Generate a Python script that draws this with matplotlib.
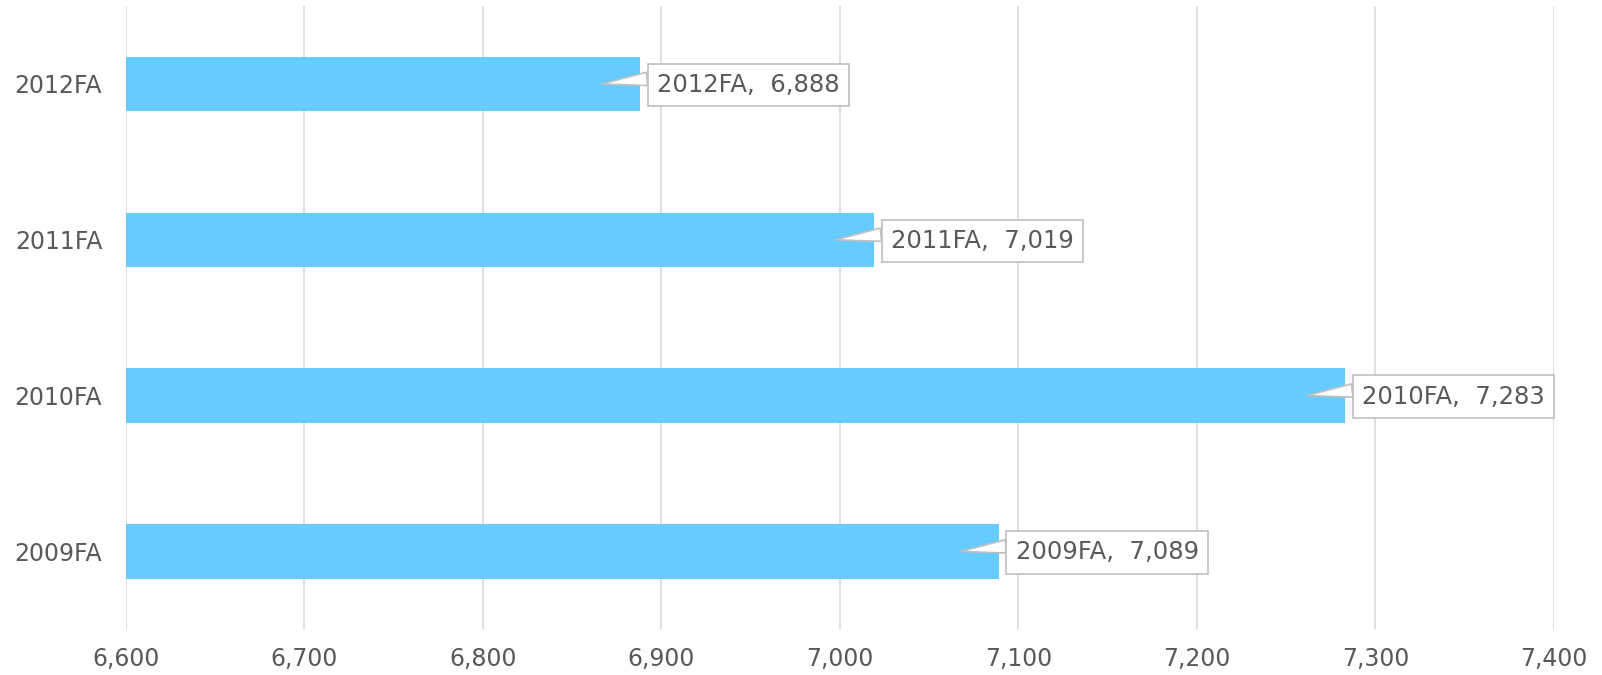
import matplotlib
matplotlib.use("Agg")
import matplotlib.pyplot as plt
from matplotlib.transforms import offset_copy

categorias = ["2009FA", "2010FA", "2011FA", "2012FA"]
valores = [7089, 7283, 7019, 6888]
ticks_x = [6600, 6700, 6800, 6900, 7000, 7100, 7200, 7300, 7400]

color_barra = "#66CCFF"
color_texto = "#595959"
color_grid = "#d9d9d9"

fig = plt.figure(figsize=(16.02, 6.75), dpi=100)
ax = fig.add_axes([0.0785, 0.0676, 0.970 - 0.0785, 0.991 - 0.0676])

y = range(len(categorias))
ax.barh(y, [v - ticks_x[0] for v in valores], left=ticks_x[0], height=0.35,
        color=color_barra, zorder=2)

ax.set_xlim(ticks_x[0], ticks_x[-1])
ax.set_ylim(-0.5, len(categorias) - 0.5)
ax.set_xticks(ticks_x)
ax.set_xticklabels([f"{t:,}" for t in ticks_x])
ax.set_yticks(list(y))
ax.set_yticklabels(categorias)
ax.tick_params(axis="both", length=0, labelsize=17, labelcolor=color_texto)
ax.tick_params(axis="x", pad=13)
ax.tick_params(axis="y", pad=17)
ax.grid(axis="x", color=color_grid, linewidth=1.2, zorder=0)
ax.set_axisbelow(True)
for s in ax.spines.values():
    s.set_visible(False)

# etiquetas tipo "callout"
punta = offset_copy(ax.transData, fig=fig, x=-38, y=0, units="dots")
caja = offset_copy(ax.transData, fig=fig, x=17, y=-1, units="dots")
for i, (c, v) in enumerate(zip(categorias, valores)):
    ax.annotate(f"{c},  {v:,}", xy=(v, i), xycoords=punta,
                xytext=(v, i), textcoords=caja,
                ha="left", va="center", fontsize=17.5, color=color_texto,
                bbox=dict(boxstyle="square,pad=0.38", fc="white", ec="#bfbfbf", lw=1.2),
                arrowprops=dict(arrowstyle="wedge,tail_width=0.55,shrink_factor=0.5",
                                fc="white", ec="#bfbfbf", lw=1.2, shrinkA=0, shrinkB=0,
                                relpos=(0, 0.8)),
                zorder=5)

fig.savefig("out.png", dpi=100)
